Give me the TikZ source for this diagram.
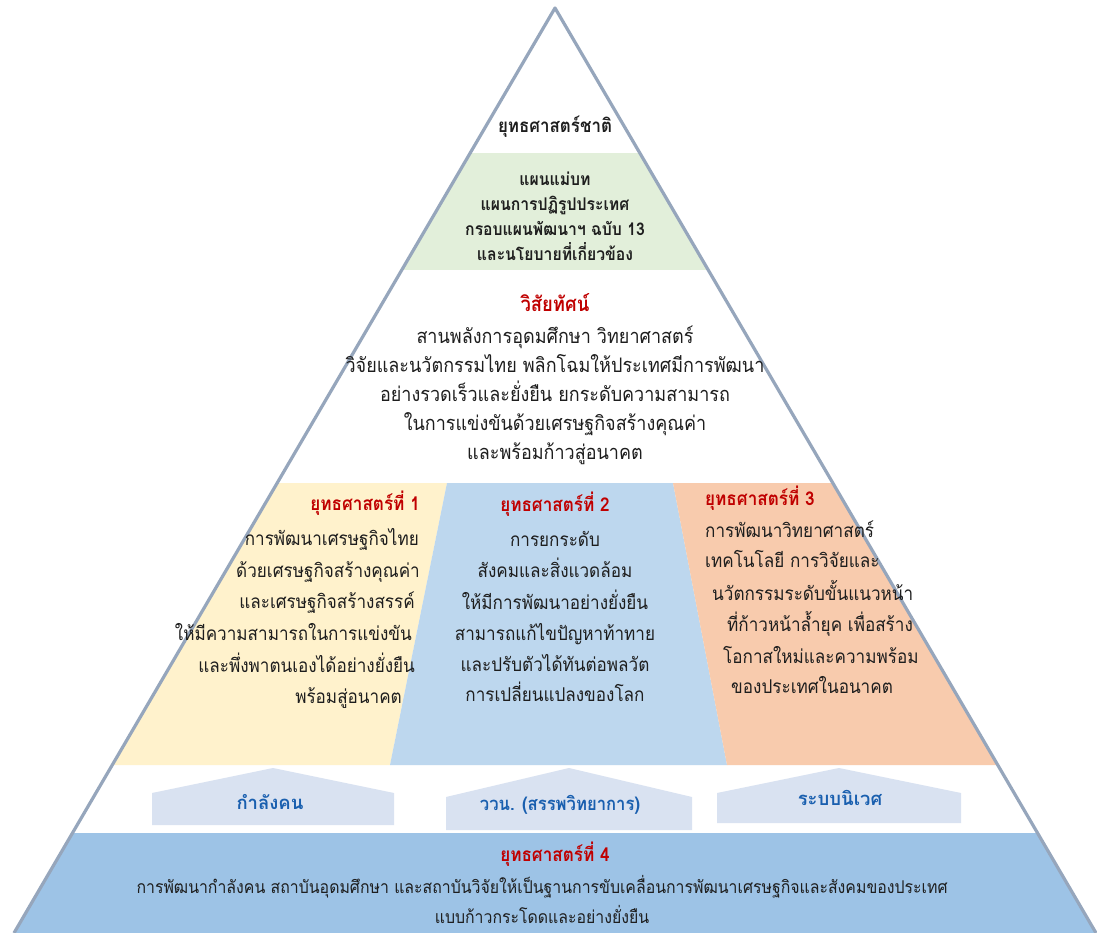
\documentclass[tikz,border=0pt]{standalone}
\usepackage{fontspec}
\setmainfont{Loma}[Script=Thai, FakeStretch=0.9]
\newfontfamily\lomawide{Loma}[Script=Thai]
\definecolor{outl}{RGB}{150,166,188}
\definecolor{grn}{RGB}{226,239,218}
\definecolor{yel}{RGB}{255,242,204}
\definecolor{colblue}{RGB}{189,215,238}
\definecolor{orng}{RGB}{248,203,173}
\definecolor{house}{RGB}{217,226,241}
\definecolor{basecol}{RGB}{157,195,230}
\definecolor{redt}{RGB}{192,0,0}
\definecolor{bluet}{RGB}{25,95,175}
\definecolor{ink}{RGB}{30,30,30}
\begin{document}
\begin{tikzpicture}[x=1pt,y=-1pt,
  body/.style={inner sep=0pt, text=ink, font=\fontsize{19}{29}\selectfont, text height=14pt, text depth=5pt},
  bodyc/.style={inner sep=0pt, text=ink, font=\fontsize{20}{29}\selectfont, align=center},
  head/.style={inner sep=0pt, text=redt, font=\bfseries\fontsize{19}{29}\selectfont, text height=14pt, text depth=5pt},
  blk/.style={inner sep=0pt, text=ink, font=\bfseries\fontsize{17.5}{25}\selectfont, align=center},
  hlabel/.style={inner sep=0pt, text=bluet, font=\lomawide\bfseries\fontsize{18.5}{22}\selectfont, text height=14pt, text depth=5pt},
  housebox/.style={fill=house},
  small/.style={inner sep=0pt, text=ink, font=\fontsize{17.6}{30}\selectfont, align=center}]
\useasboundingbox (0,0) rectangle (1097,933);
\fill[white] (0,0) rectangle (1097,933);
\coordinate (apex) at (555,8);
\coordinate (bl) at (14,933);
\coordinate (br) at (1096,933);
\begin{scope}
  \clip (apex) -- (bl) -- (br) -- cycle;
  \fill[grn] (0,153) rectangle (1097,270);
  \fill[yel] (0,483) -- (447,483) -- (390,765) -- (0,765) -- cycle;
  \fill[colblue] (447,483) -- (673,483) -- (727,765) -- (390,765) -- cycle;
  \fill[orng] (673,483) -- (1097,483) -- (1097,765) -- (727,765) -- cycle;
  \fill[basecol] (0,833) rectangle (1097,933);
\end{scope}
% houses
\fill[housebox] (152,825) -- (152,793) -- (273,768) -- (394,793) -- (394,825) -- cycle;
\fill[housebox] (446,830) -- (446,797) -- (569,768) -- (692,797) -- (692,830) -- cycle;
\fill[housebox] (717,823) -- (717,793) -- (839,768) -- (961,793) -- (961,823) -- cycle;
\draw[outl, line width=3.2pt, line join=round] (bl) -- (apex) -- (br);

% top
\node[inner sep=0pt, text=ink, font=\bfseries\fontsize{18.8}{25}\selectfont, text height=14pt, text depth=5pt] (nat) at (555,128) {ยุทธศาสตร์ชาติ};
\node[blk, anchor=north] (plans) at (555,172) {แผนแม่บท\\แผนการปฏิรูปประเทศ\\กรอบแผนพัฒนาฯ ฉบับ 13\\และนโยบายที่เกี่ยวข้อง};

% vision
\node[head, font=\bfseries\fontsize{20.5}{29}\selectfont] (vtitle) at (555,307) {วิสัยทัศน์};
\node[bodyc, anchor=north] (vtext) at (555,326) {สานพลังการอุดมศึกษา วิทยาศาสตร์\\วิจัยและนวัตกรรมไทย พลิกโฉมให้ประเทศมีการพัฒนา\\อย่างรวดเร็วและยั่งยืน ยกระดับความสามารถ\\ในการแข่งขันด้วยเศรษฐกิจสร้างคุณค่า\\และพร้อมก้าวสู่อนาคต};

% strategy 1
\node[head, anchor=east] (s1t) at (420,506) {ยุทธศาสตร์ที่ 1};
\node[body, anchor=east] (s1a) at (419,541) {การพัฒนาเศรษฐกิจไทย};
\node[body, anchor=east] (s1b) at (420,573) {ด้วยเศรษฐกิจสร้างคุณค่า};
\node[body, anchor=east] (s1c) at (415,604) {และเศรษฐกิจสร้างสรรค์};
\node[body, anchor=east] (s1d) at (412,636) {ให้มีความสามารถในการแข่งขัน};
\node[body, anchor=east] (s1e) at (415,668) {และพึ่งพาตนเองได้อย่างยั่งยืน};
\node[body, anchor=east] (s1f) at (402,699) {พร้อมสู่อนาคต};

% strategy 2
\node[head] (s2t) at (555,507) {ยุทธศาสตร์ที่ 2};
\node[body] (s2a) at (555,542) {การยกระดับ};
\node[body] (s2b) at (555,573) {สังคมและสิ่งแวดล้อม};
\node[body] (s2c) at (555,605) {ให้มีการพัฒนาอย่างยั่งยืน};
\node[body] (s2d) at (555,636) {สามารถแก้ไขปัญหาท้าทาย};
\node[body] (s2e) at (555,667) {และปรับตัวได้ทันต่อพลวัต};
\node[body] (s2f) at (555,697) {การเปลี่ยนแปลงของโลก};

% strategy 3
\node[head, anchor=west] (s3t) at (705,501) {ยุทธศาสตร์ที่ 3};
\node[body, anchor=west] (s3a) at (705,533) {การพัฒนาวิทยาศาสตร์};
\node[body, anchor=west] (s3b) at (705,563) {เทคโนโลยี การวิจัยและ};
\node[body, anchor=west] (s3c) at (712,596) {นวัตกรรมระดับขั้นแนวหน้า};
\node[body, anchor=west] (s3d) at (727,627) {ที่ก้าวหน้าล้ำยุค เพื่อสร้าง};
\node[body, anchor=west] (s3e) at (723,659) {โอกาสใหม่และความพร้อม};
\node[body, anchor=west] (s3f) at (731,689) {ของประเทศในอนาคต};

% house labels
\node[hlabel] (h1) at (270,805) {กำลังคน};
\node[hlabel, font=\bfseries\fontsize{18.5}{22}\selectfont] (h2) at (560,806) {ววน. (สรรพวิทยาการ)};
\node[hlabel] (h3) at (840,801) {ระบบนิเวศ};

% strategy 4
\node[head] (s4t) at (555,857) {ยุทธศาสตร์ที่ 4};
\node[small, anchor=north] (s4text) at (542,875) {การพัฒนากำลังคน สถาบันอุดมศึกษา และสถาบันวิจัยให้เป็นฐานการขับเคลื่อนการพัฒนาเศรษฐกิจและสังคมของประเทศ\\แบบก้าวกระโดดและอย่างยั่งยืน};
\end{tikzpicture}
\end{document}
